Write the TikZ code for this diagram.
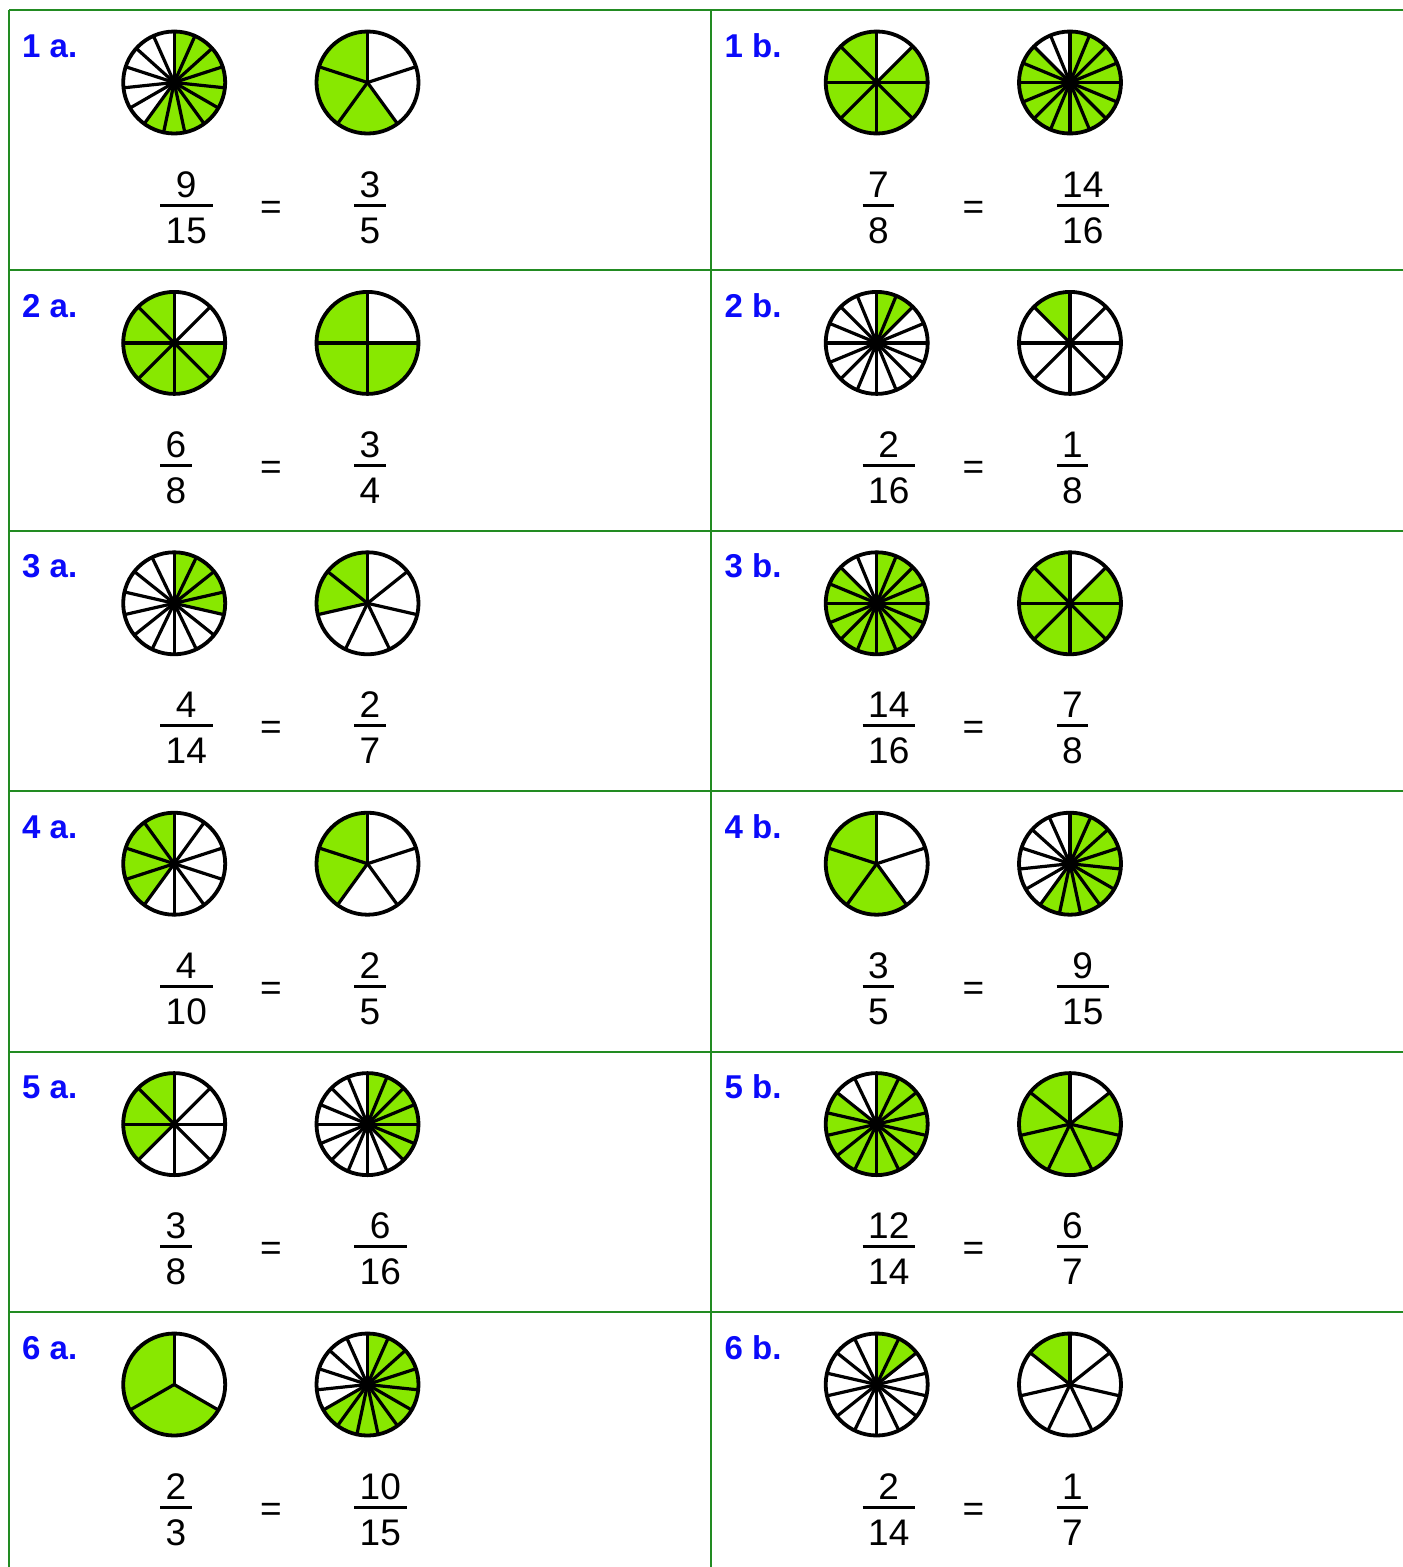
\documentclass[tikz,border=0pt]{standalone}
\usepackage{fontspec}
\setmainfont{Liberation Sans}
\definecolor{piegreen}{RGB}{136,232,0}
\definecolor{gridgreen}{RGB}{34,139,34}
\definecolor{lblblue}{RGB}{10,10,250}
\newcommand\fracfont{\fontsize{37}{37}\selectfont}
\def\pieR{51}
\newcommand\setcell[2]{\def\X{#1}\def\Y{#2}}
% #1 position (0 left,1 right), #2 parts, #3 shaded, #4 direction (+1 ccw, -1 cw)
\newcommand\pie[4]{%
  \pgfmathsetmacro\pcx{\X+174.2+193.3*#1}%
  \pgfmathsetmacro\pcy{-(\Y+82.5)}%
  \pgfmathsetmacro\pea{90+#4*360*#3/#2}%
  \fill[piegreen] (\pcx,\pcy) -- ++(90:\pieR) arc[start angle=90,end angle=\pea,radius=\pieR] -- cycle;
  \foreach \i in {1,...,#2}{\draw[spoke] (\pcx,\pcy) -- ++({90-360*\i/#2}:\pieR);}
  \draw[rim] (\pcx,\pcy) circle[radius=\pieR];
}
% #1 name, #2 left x, #3 numerator, #4 denominator
\newcommand\fracpair[4]{%
  \pgfmathsetmacro\frL{\X+#2}%
  \pgfmathsetmacro\frD{-(\Y+243)}%
  \pgfmathsetmacro\frN{-(\Y+197)}%
  \pgfmathsetmacro\frB{-(\Y+205)}%
  \node[frtext, anchor=base west, inner xsep=5.5pt] (#1d) at (\frL,\frD) {#4};
  \node[frtext] (#1n) at (#1d.base |- 0,\frN) {#3};
  \draw[fbar] (#1d.west |- 0,\frB) -- (#1d.east |- 0,\frB);
}
\newcommand\lab[2]{\node[lbl] (#1) at ({\X+22},{-(\Y+57)}) {#2};}
\newcommand\eqs[1]{\node[frtext] (#1) at ({\X+271},{-(\Y+219)}) {=};}
\tikzset{
  spoke/.style={line width=3.2pt, line cap=round},
  rim/.style={line width=3.8pt},
  fbar/.style={line width=3pt},
  gridline/.style={draw=gridgreen, line width=2pt},
  frtext/.style={font=\fracfont, inner sep=0pt, anchor=base},
  lbl/.style={font=\fontsize{33}{33}\selectfont\bfseries, text=lblblue, inner sep=0pt, anchor=base west},
}
\begin{document}
\begin{tikzpicture}[x=1pt,y=1pt]
\useasboundingbox (0,0) rectangle (1403,-1567);
\fill[white] (0,0) rectangle (1403,-1567);
% grid
\foreach \gy in {10,270.4,530.8,791.2,1051.6,1312}{\draw[gridline] (9,-\gy) -- (1403,-\gy);}
\draw[gridline] (9,-10) -- (9,-1567);
\draw[gridline] (711,-10) -- (711,-1567);
% row 1
\setcell{0}{0}
\lab{L1a}{1 a.}\pie{0}{15}{9}{-1}\pie{1}{5}{3}{1}
\fracpair{F1aL}{160}{9}{15}\eqs{E1a}\fracpair{F1aR}{354}{3}{5}
\setcell{702.5}{0}
\lab{L1b}{1 b.}\pie{0}{8}{7}{1}\pie{1}{16}{14}{-1}
\fracpair{F1bL}{160}{7}{8}\eqs{E1b}\fracpair{F1bR}{354}{14}{16}
% row 2
\setcell{0}{260.4}
\lab{L2a}{2 a.}\pie{0}{8}{6}{1}\pie{1}{4}{3}{1}
\fracpair{F2aL}{160}{6}{8}\eqs{E2a}\fracpair{F2aR}{354}{3}{4}
\setcell{702.5}{260.4}
\lab{L2b}{2 b.}\pie{0}{16}{2}{-1}\pie{1}{8}{1}{1}
\fracpair{F2bL}{160}{2}{16}\eqs{E2b}\fracpair{F2bR}{354}{1}{8}
% row 3
\setcell{0}{520.8}
\lab{L3a}{3 a.}\pie{0}{14}{4}{-1}\pie{1}{7}{2}{1}
\fracpair{F3aL}{160}{4}{14}\eqs{E3a}\fracpair{F3aR}{354}{2}{7}
\setcell{702.5}{520.8}
\lab{L3b}{3 b.}\pie{0}{16}{14}{-1}\pie{1}{8}{7}{1}
\fracpair{F3bL}{160}{14}{16}\eqs{E3b}\fracpair{F3bR}{354}{7}{8}
% row 4
\setcell{0}{781.2}
\lab{L4a}{4 a.}\pie{0}{10}{4}{1}\pie{1}{5}{2}{1}
\fracpair{F4aL}{160}{4}{10}\eqs{E4a}\fracpair{F4aR}{354}{2}{5}
\setcell{702.5}{781.2}
\lab{L4b}{4 b.}\pie{0}{5}{3}{1}\pie{1}{15}{9}{-1}
\fracpair{F4bL}{160}{3}{5}\eqs{E4b}\fracpair{F4bR}{354}{9}{15}
% row 5
\setcell{0}{1041.6}
\lab{L5a}{5 a.}\pie{0}{8}{3}{1}\pie{1}{16}{6}{-1}
\fracpair{F5aL}{160}{3}{8}\eqs{E5a}\fracpair{F5aR}{354}{6}{16}
\setcell{702.5}{1041.6}
\lab{L5b}{5 b.}\pie{0}{14}{12}{-1}\pie{1}{7}{6}{1}
\fracpair{F5bL}{160}{12}{14}\eqs{E5b}\fracpair{F5bR}{354}{6}{7}
% row 6
\setcell{0}{1302}
\lab{L6a}{6 a.}\pie{0}{3}{2}{1}\pie{1}{15}{10}{-1}
\fracpair{F6aL}{160}{2}{3}\eqs{E6a}\fracpair{F6aR}{354}{10}{15}
\setcell{702.5}{1302}
\lab{L6b}{6 b.}\pie{0}{14}{2}{-1}\pie{1}{7}{1}{1}
\fracpair{F6bL}{160}{2}{14}\eqs{E6b}\fracpair{F6bR}{354}{1}{7}
\end{tikzpicture}
\end{document}
